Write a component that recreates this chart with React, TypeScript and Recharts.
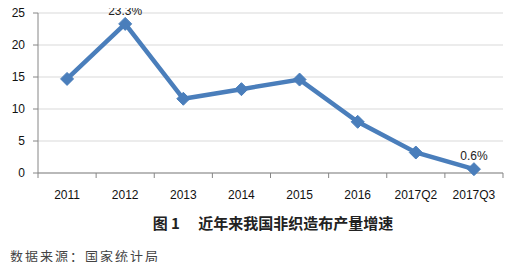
import React from "react";
import { LineChart, Line, XAxis, YAxis, CartesianGrid, LabelList } from "recharts";

const categories = ["2011", "2012", "2013", "2014", "2015", "2016", "2017Q2", "2017Q3"];
const growth = [14.7, 23.3, 11.6, 13.1, 14.6, 8.0, 3.2, 0.6];
const pointLabels = ["", "23.3%", "", "", "", "", "", "0.6%"];
const yTicks = [0, 5, 10, 15, 20, 25];
const caption = "图 1\u3000 近年来我国非织造布产量增速";
const source = "数据来源：国家统计局";

const data = categories.map((c, i) => ({ name: c, value: growth[i], label: pointLabels[i] }));

const COLOR = "#4a7ebb";
const AXIS = "#868686";
const HALF_BAND = 29.06;

const Diamond = (props: any) => {
  const { cx, cy } = props;
  if (cx == null || cy == null) return null;
  const r = 6.5;
  return (
    <polygon
      points={`${cx},${cy - r} ${cx + r},${cy} ${cx},${cy + r} ${cx - r},${cy}`}
      fill={COLOR}
      stroke={COLOR}
    />
  );
};

const PointLabel = (props: any) => {
  const { x, y, value } = props;
  if (!value) return null;
  return (
    <text x={x} y={y - 9} textAnchor="middle" fontSize={12} fill="#222" fontFamily="Liberation Sans, Arial, sans-serif">
      {value}
    </text>
  );
};

const XTick = (props: any) => {
  const { x, y, payload, index } = props;
  const top = y - 17;
  const last = index === categories.length - 1;
  return (
    <g>
      <line x1={x - HALF_BAND} x2={x - HALF_BAND} y1={top} y2={top + 5} stroke={AXIS} />
      {last && <line x1={x + HALF_BAND} x2={x + HALF_BAND} y1={top} y2={top + 5} stroke={AXIS} />}
      <text x={x} y={y} dy="0.71em" textAnchor="middle" fontSize={12} fill="#111" fontFamily="Liberation Sans, Arial, sans-serif">
        {payload.value}
      </text>
    </g>
  );
};

export default function App() {
  return (
    <div style={{ position: "relative", width: 515, height: 270, margin: "-8px", background: "#fff" }}>
      <LineChart width={515} height={210} data={data} margin={{ top: 13, right: 12, left: 8, bottom: 0 }}>
        <CartesianGrid vertical={false} stroke="#d9d9d9" />
        <XAxis
          dataKey="name"
          scale="band"
          axisLine={{ stroke: AXIS }}
          tickLine={false}
          tickSize={0}
          tickMargin={17}
          height={37}
          interval={0}
          tick={<XTick />}
        />
        <YAxis
          domain={[0, 25]}
          ticks={yTicks}
          width={30}
          axisLine={{ stroke: AXIS }}
          tickLine={{ stroke: AXIS }}
          tickSize={5}
          tickMargin={8}
          tick={{ fontSize: 12, fill: "#111", fontFamily: "Liberation Sans, Arial, sans-serif" }}
        />
        <Line
          type="linear"
          dataKey="value"
          stroke={COLOR}
          strokeWidth={4.5}
          dot={<Diamond />}
          activeDot={false}
          isAnimationActive={false}
        >
          <LabelList dataKey="label" content={<PointLabel />} />
        </Line>
      </LineChart>
      <div
        style={{
          position: "absolute",
          left: 0,
          width: 546,
          top: 213,
          textAlign: "center",
          fontFamily: "Noto Sans CJK SC",
          fontWeight: "bold",
          fontSize: 15,
          color: "#222",
          whiteSpace: "pre",
          lineHeight: "20px",
        }}
      >
        {caption}
      </div>
      <div
        style={{
          position: "absolute",
          left: 10,
          top: 246,
          fontFamily: "Noto Sans CJK SC",
          fontSize: 13,
          letterSpacing: 2,
          color: "#444",
          whiteSpace: "pre",
          lineHeight: "20px",
        }}
      >
        {source}
      </div>
    </div>
  );
}
